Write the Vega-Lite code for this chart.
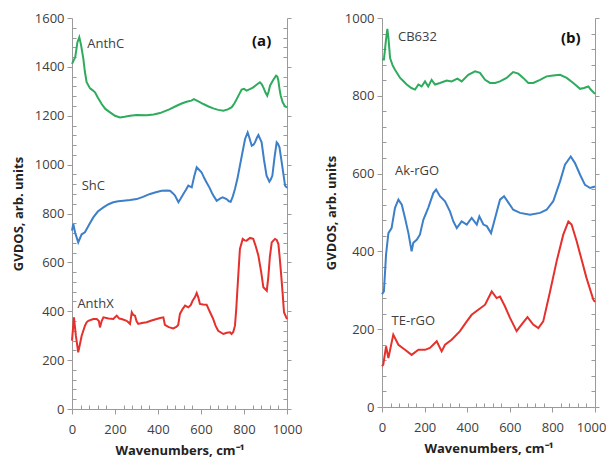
{
  "$schema": "https://vega.github.io/schema/vega-lite/v6.json",
  "padding": {"left": 12, "top": 12, "right": 0, "bottom": 0},
  "config": {
    "font": "Open Sans",
    "view": {"stroke": null},
    "axis": {"grid": false, "domainColor": "#9a9a9a", "tickColor": "#9a9a9a", "labelColor": "#404040", "labelFontSize": 13, "titleFontSize": 13, "titleFontWeight": "bold", "titleColor": "#222222", "labelOverlap": false, "labelFlush": false}
  },
  "datasets": {
    "a": [
      {"series":"AnthC","wn":0,"v":1412},{"series":"AnthC","wn":15,"v":1440},{"series":"AnthC","wn":25,"v":1500},{"series":"AnthC","wn":34,"v":1521},{"series":"AnthC","wn":42,"v":1490},{"series":"AnthC","wn":53,"v":1432},{"series":"AnthC","wn":60,"v":1380},{"series":"AnthC","wn":68,"v":1337},{"series":"AnthC","wn":84,"v":1312},{"series":"AnthC","wn":95,"v":1305},{"series":"AnthC","wn":107,"v":1296},{"series":"AnthC","wn":120,"v":1275},{"series":"AnthC","wn":138,"v":1248},{"series":"AnthC","wn":155,"v":1228},{"series":"AnthC","wn":177,"v":1214},{"series":"AnthC","wn":200,"v":1200},{"series":"AnthC","wn":223,"v":1193},{"series":"AnthC","wn":245,"v":1196},{"series":"AnthC","wn":270,"v":1200},{"series":"AnthC","wn":300,"v":1203},{"series":"AnthC","wn":347,"v":1202},{"series":"AnthC","wn":380,"v":1205},{"series":"AnthC","wn":409,"v":1211},{"series":"AnthC","wn":450,"v":1225},{"series":"AnthC","wn":487,"v":1241},{"series":"AnthC","wn":510,"v":1250},{"series":"AnthC","wn":533,"v":1257},{"series":"AnthC","wn":555,"v":1262},{"series":"AnthC","wn":567,"v":1268},{"series":"AnthC","wn":590,"v":1258},{"series":"AnthC","wn":611,"v":1248},{"series":"AnthC","wn":635,"v":1238},{"series":"AnthC","wn":657,"v":1230},{"series":"AnthC","wn":680,"v":1224},{"series":"AnthC","wn":704,"v":1221},{"series":"AnthC","wn":725,"v":1226},{"series":"AnthC","wn":743,"v":1235},{"series":"AnthC","wn":755,"v":1250},{"series":"AnthC","wn":766,"v":1268},{"series":"AnthC","wn":789,"v":1307},{"series":"AnthC","wn":800,"v":1310},{"series":"AnthC","wn":812,"v":1303},{"series":"AnthC","wn":830,"v":1310},{"series":"AnthC","wn":843,"v":1316},{"series":"AnthC","wn":860,"v":1328},{"series":"AnthC","wn":874,"v":1337},{"series":"AnthC","wn":882,"v":1330},{"series":"AnthC","wn":890,"v":1316},{"series":"AnthC","wn":900,"v":1295},{"series":"AnthC","wn":908,"v":1282},{"series":"AnthC","wn":915,"v":1300},{"series":"AnthC","wn":921,"v":1323},{"series":"AnthC","wn":935,"v":1345},{"series":"AnthC","wn":949,"v":1364},{"series":"AnthC","wn":955,"v":1360},{"series":"AnthC","wn":960,"v":1343},{"series":"AnthC","wn":965,"v":1310},{"series":"AnthC","wn":971,"v":1282},{"series":"AnthC","wn":980,"v":1255},{"series":"AnthC","wn":991,"v":1238},{"series":"AnthC","wn":1000,"v":1235},
      {"series":"ShC","wn":0,"v":730},{"series":"ShC","wn":6,"v":757},{"series":"ShC","wn":15,"v":720},{"series":"ShC","wn":29,"v":682},{"series":"ShC","wn":45,"v":715},{"series":"ShC","wn":60,"v":723},{"series":"ShC","wn":80,"v":755},{"series":"ShC","wn":99,"v":784},{"series":"ShC","wn":120,"v":808},{"series":"ShC","wn":146,"v":825},{"series":"ShC","wn":170,"v":838},{"series":"ShC","wn":192,"v":846},{"series":"ShC","wn":215,"v":850},{"series":"ShC","wn":239,"v":852},{"series":"ShC","wn":270,"v":855},{"series":"ShC","wn":301,"v":859},{"series":"ShC","wn":330,"v":868},{"series":"ShC","wn":363,"v":880},{"series":"ShC","wn":390,"v":887},{"series":"ShC","wn":417,"v":893},{"series":"ShC","wn":440,"v":894},{"series":"ShC","wn":456,"v":893},{"series":"ShC","wn":470,"v":882},{"series":"ShC","wn":479,"v":873},{"series":"ShC","wn":495,"v":846},{"series":"ShC","wn":505,"v":860},{"series":"ShC","wn":518,"v":880},{"series":"ShC","wn":530,"v":897},{"series":"ShC","wn":541,"v":914},{"series":"ShC","wn":557,"v":907},{"series":"ShC","wn":568,"v":950},{"series":"ShC","wn":580,"v":989},{"series":"ShC","wn":590,"v":980},{"series":"ShC","wn":603,"v":968},{"series":"ShC","wn":615,"v":945},{"series":"ShC","wn":626,"v":927},{"series":"ShC","wn":640,"v":905},{"series":"ShC","wn":650,"v":886},{"series":"ShC","wn":660,"v":870},{"series":"ShC","wn":673,"v":852},{"series":"ShC","wn":690,"v":862},{"series":"ShC","wn":701,"v":866},{"series":"ShC","wn":719,"v":859},{"series":"ShC","wn":730,"v":850},{"series":"ShC","wn":738,"v":848},{"series":"ShC","wn":748,"v":870},{"series":"ShC","wn":758,"v":900},{"series":"ShC","wn":770,"v":945},{"series":"ShC","wn":781,"v":996},{"series":"ShC","wn":795,"v":1060},{"series":"ShC","wn":805,"v":1105},{"series":"ShC","wn":817,"v":1132},{"series":"ShC","wn":825,"v":1110},{"series":"ShC","wn":836,"v":1077},{"series":"ShC","wn":845,"v":1082},{"series":"ShC","wn":851,"v":1091},{"series":"ShC","wn":860,"v":1110},{"series":"ShC","wn":867,"v":1121},{"series":"ShC","wn":875,"v":1105},{"series":"ShC","wn":882,"v":1091},{"series":"ShC","wn":893,"v":1020},{"series":"ShC","wn":905,"v":955},{"series":"ShC","wn":918,"v":930},{"series":"ShC","wn":925,"v":940},{"series":"ShC","wn":932,"v":955},{"series":"ShC","wn":942,"v":1030},{"series":"ShC","wn":952,"v":1091},{"series":"ShC","wn":958,"v":1085},{"series":"ShC","wn":965,"v":1071},{"series":"ShC","wn":972,"v":1030},{"series":"ShC","wn":980,"v":982},{"series":"ShC","wn":991,"v":914},{"series":"ShC","wn":1000,"v":905},
      {"series":"AnthX","wn":0,"v":280},{"series":"AnthX","wn":9,"v":375},{"series":"AnthX","wn":18,"v":300},{"series":"AnthX","wn":29,"v":232},{"series":"AnthX","wn":45,"v":300},{"series":"AnthX","wn":60,"v":340},{"series":"AnthX","wn":68,"v":355},{"series":"AnthX","wn":76,"v":361},{"series":"AnthX","wn":99,"v":368},{"series":"AnthX","wn":115,"v":368},{"series":"AnthX","wn":125,"v":360},{"series":"AnthX","wn":130,"v":334},{"series":"AnthX","wn":138,"v":360},{"series":"AnthX","wn":146,"v":375},{"series":"AnthX","wn":170,"v":370},{"series":"AnthX","wn":192,"v":368},{"series":"AnthX","wn":208,"v":382},{"series":"AnthX","wn":220,"v":370},{"series":"AnthX","wn":231,"v":368},{"series":"AnthX","wn":254,"v":361},{"series":"AnthX","wn":262,"v":355},{"series":"AnthX","wn":270,"v":348},{"series":"AnthX","wn":278,"v":396},{"series":"AnthX","wn":285,"v":385},{"series":"AnthX","wn":293,"v":382},{"series":"AnthX","wn":300,"v":360},{"series":"AnthX","wn":308,"v":348},{"series":"AnthX","wn":325,"v":352},{"series":"AnthX","wn":347,"v":355},{"series":"AnthX","wn":370,"v":362},{"series":"AnthX","wn":394,"v":368},{"series":"AnthX","wn":410,"v":372},{"series":"AnthX","wn":425,"v":375},{"series":"AnthX","wn":432,"v":344},{"series":"AnthX","wn":450,"v":335},{"series":"AnthX","wn":471,"v":330},{"series":"AnthX","wn":485,"v":336},{"series":"AnthX","wn":494,"v":344},{"series":"AnthX","wn":502,"v":389},{"series":"AnthX","wn":515,"v":410},{"series":"AnthX","wn":526,"v":423},{"series":"AnthX","wn":541,"v":416},{"series":"AnthX","wn":552,"v":425},{"series":"AnthX","wn":561,"v":443},{"series":"AnthX","wn":572,"v":458},{"series":"AnthX","wn":580,"v":475},{"series":"AnthX","wn":588,"v":455},{"series":"AnthX","wn":595,"v":430},{"series":"AnthX","wn":610,"v":428},{"series":"AnthX","wn":626,"v":427},{"series":"AnthX","wn":640,"v":400},{"series":"AnthX","wn":657,"v":368},{"series":"AnthX","wn":668,"v":340},{"series":"AnthX","wn":680,"v":320},{"series":"AnthX","wn":704,"v":307},{"series":"AnthX","wn":720,"v":312},{"series":"AnthX","wn":735,"v":314},{"series":"AnthX","wn":742,"v":307},{"series":"AnthX","wn":750,"v":315},{"series":"AnthX","wn":758,"v":341},{"series":"AnthX","wn":764,"v":410},{"series":"AnthX","wn":769,"v":484},{"series":"AnthX","wn":775,"v":570},{"series":"AnthX","wn":781,"v":655},{"series":"AnthX","wn":794,"v":696},{"series":"AnthX","wn":803,"v":690},{"series":"AnthX","wn":812,"v":689},{"series":"AnthX","wn":828,"v":700},{"series":"AnthX","wn":843,"v":696},{"series":"AnthX","wn":855,"v":665},{"series":"AnthX","wn":867,"v":627},{"series":"AnthX","wn":880,"v":560},{"series":"AnthX","wn":890,"v":498},{"series":"AnthX","wn":906,"v":484},{"series":"AnthX","wn":913,"v":539},{"series":"AnthX","wn":920,"v":620},{"series":"AnthX","wn":929,"v":682},{"series":"AnthX","wn":944,"v":696},{"series":"AnthX","wn":952,"v":692},{"series":"AnthX","wn":960,"v":675},{"series":"AnthX","wn":966,"v":620},{"series":"AnthX","wn":972,"v":559},{"series":"AnthX","wn":980,"v":470},{"series":"AnthX","wn":986,"v":396},{"series":"AnthX","wn":1000,"v":368}
    ],
    "b": [
      {"series":"CB632","wn":0,"v":893},{"series":"CB632","wn":9,"v":893},{"series":"CB632","wn":18,"v":940},{"series":"CB632","wn":25,"v":972},{"series":"CB632","wn":30,"v":950},{"series":"CB632","wn":38,"v":897},{"series":"CB632","wn":50,"v":878},{"series":"CB632","wn":61,"v":867},{"series":"CB632","wn":85,"v":846},{"series":"CB632","wn":100,"v":838},{"series":"CB632","wn":116,"v":829},{"series":"CB632","wn":138,"v":820},{"series":"CB632","wn":155,"v":816},{"series":"CB632","wn":171,"v":829},{"series":"CB632","wn":186,"v":824},{"series":"CB632","wn":202,"v":837},{"series":"CB632","wn":217,"v":824},{"series":"CB632","wn":233,"v":841},{"series":"CB632","wn":249,"v":829},{"series":"CB632","wn":272,"v":833},{"series":"CB632","wn":304,"v":839},{"series":"CB632","wn":327,"v":837},{"series":"CB632","wn":354,"v":844},{"series":"CB632","wn":374,"v":837},{"series":"CB632","wn":405,"v":854},{"series":"CB632","wn":437,"v":863},{"series":"CB632","wn":460,"v":859},{"series":"CB632","wn":484,"v":841},{"series":"CB632","wn":507,"v":833},{"series":"CB632","wn":531,"v":833},{"series":"CB632","wn":554,"v":837},{"series":"CB632","wn":585,"v":846},{"series":"CB632","wn":616,"v":861},{"series":"CB632","wn":640,"v":857},{"series":"CB632","wn":663,"v":846},{"series":"CB632","wn":687,"v":833},{"series":"CB632","wn":710,"v":833},{"series":"CB632","wn":742,"v":841},{"series":"CB632","wn":773,"v":850},{"series":"CB632","wn":804,"v":852},{"series":"CB632","wn":836,"v":854},{"series":"CB632","wn":867,"v":846},{"series":"CB632","wn":898,"v":833},{"series":"CB632","wn":930,"v":818},{"series":"CB632","wn":948,"v":820},{"series":"CB632","wn":969,"v":824},{"series":"CB632","wn":980,"v":816},{"series":"CB632","wn":1000,"v":805},
      {"series":"Ak-rGO","wn":0,"v":290},{"series":"Ak-rGO","wn":9,"v":297},{"series":"Ak-rGO","wn":19,"v":392},{"series":"Ak-rGO","wn":30,"v":447},{"series":"Ak-rGO","wn":45,"v":460},{"series":"Ak-rGO","wn":61,"v":512},{"series":"Ak-rGO","wn":77,"v":533},{"series":"Ak-rGO","wn":93,"v":520},{"series":"Ak-rGO","wn":108,"v":486},{"series":"Ak-rGO","wn":124,"v":447},{"series":"Ak-rGO","wn":139,"v":400},{"series":"Ak-rGO","wn":147,"v":422},{"series":"Ak-rGO","wn":163,"v":430},{"series":"Ak-rGO","wn":178,"v":443},{"series":"Ak-rGO","wn":194,"v":481},{"series":"Ak-rGO","wn":217,"v":512},{"series":"Ak-rGO","wn":241,"v":550},{"series":"Ak-rGO","wn":254,"v":559},{"series":"Ak-rGO","wn":272,"v":542},{"series":"Ak-rGO","wn":296,"v":529},{"series":"Ak-rGO","wn":319,"v":503},{"series":"Ak-rGO","wn":335,"v":477},{"series":"Ak-rGO","wn":351,"v":460},{"series":"Ak-rGO","wn":374,"v":477},{"series":"Ak-rGO","wn":398,"v":469},{"series":"Ak-rGO","wn":421,"v":486},{"series":"Ak-rGO","wn":445,"v":469},{"series":"Ak-rGO","wn":457,"v":490},{"series":"Ak-rGO","wn":476,"v":469},{"series":"Ak-rGO","wn":492,"v":465},{"series":"Ak-rGO","wn":512,"v":447},{"series":"Ak-rGO","wn":531,"v":486},{"series":"Ak-rGO","wn":554,"v":533},{"series":"Ak-rGO","wn":573,"v":542},{"series":"Ak-rGO","wn":595,"v":524},{"series":"Ak-rGO","wn":616,"v":507},{"series":"Ak-rGO","wn":648,"v":499},{"series":"Ak-rGO","wn":695,"v":494},{"series":"Ak-rGO","wn":742,"v":499},{"series":"Ak-rGO","wn":773,"v":507},{"series":"Ak-rGO","wn":804,"v":529},{"series":"Ak-rGO","wn":836,"v":580},{"series":"Ak-rGO","wn":859,"v":623},{"series":"Ak-rGO","wn":886,"v":644},{"series":"Ak-rGO","wn":906,"v":627},{"series":"Ak-rGO","wn":930,"v":597},{"series":"Ak-rGO","wn":953,"v":571},{"series":"Ak-rGO","wn":977,"v":563},{"series":"Ak-rGO","wn":1000,"v":567},
      {"series":"TE-rGO","wn":0,"v":105},{"series":"TE-rGO","wn":6,"v":109},{"series":"TE-rGO","wn":19,"v":156},{"series":"TE-rGO","wn":30,"v":126},{"series":"TE-rGO","wn":53,"v":186},{"series":"TE-rGO","wn":77,"v":160},{"series":"TE-rGO","wn":108,"v":147},{"series":"TE-rGO","wn":139,"v":134},{"series":"TE-rGO","wn":171,"v":147},{"series":"TE-rGO","wn":202,"v":147},{"series":"TE-rGO","wn":225,"v":152},{"series":"TE-rGO","wn":257,"v":169},{"series":"TE-rGO","wn":280,"v":143},{"series":"TE-rGO","wn":296,"v":160},{"series":"TE-rGO","wn":327,"v":173},{"series":"TE-rGO","wn":366,"v":195},{"series":"TE-rGO","wn":398,"v":220},{"series":"TE-rGO","wn":421,"v":237},{"series":"TE-rGO","wn":452,"v":250},{"series":"TE-rGO","wn":484,"v":263},{"series":"TE-rGO","wn":515,"v":297},{"series":"TE-rGO","wn":538,"v":280},{"series":"TE-rGO","wn":554,"v":284},{"series":"TE-rGO","wn":577,"v":259},{"series":"TE-rGO","wn":601,"v":229},{"series":"TE-rGO","wn":632,"v":195},{"series":"TE-rGO","wn":655,"v":212},{"series":"TE-rGO","wn":683,"v":231},{"series":"TE-rGO","wn":710,"v":212},{"series":"TE-rGO","wn":734,"v":203},{"series":"TE-rGO","wn":757,"v":220},{"series":"TE-rGO","wn":789,"v":297},{"series":"TE-rGO","wn":820,"v":375},{"series":"TE-rGO","wn":851,"v":443},{"series":"TE-rGO","wn":875,"v":477},{"series":"TE-rGO","wn":890,"v":469},{"series":"TE-rGO","wn":914,"v":426},{"series":"TE-rGO","wn":937,"v":379},{"series":"TE-rGO","wn":960,"v":332},{"series":"TE-rGO","wn":992,"v":276},{"series":"TE-rGO","wn":1000,"v":270}
    ],
    "la": [{"text":"AnthC","wn":71,"v":1493},{"text":"ShC","wn":45,"v":914},{"text":"AnthX","wn":25,"v":430}],
    "ta": [{"text":"(a)","wn":882,"v":1507}],
    "lb": [{"text":"CB632","wn":75,"v":950},{"text":"Ak-rGO","wn":61,"v":606},{"text":"TE-rGO","wn":45,"v":220}],
    "tb": [{"text":"(b)","wn":886,"v":949}]
  },
  "hconcat": [
    {
      "width": 215,
      "height": 391,
      "layer": [
        {
          "data": {"name": "a"},
          "mark": {"type": "line", "strokeWidth": 2},
          "encoding": {
            "x": {"field": "wn", "type": "quantitative", "scale": {"domain": [0, 1000], "nice": false},
              "axis": {"orient": "bottom", "values": [0,40,80,120,160,200,240,280,320,360,400,440,480,520,560,600,640,680,720,760,800,840,880,920,960,1000], "format": "d", "labelExpr": "datum.value % 200 === 0 ? datum.label : ''", "labelOverlap": false, "labelFlush": false, "tickSize": {"condition": {"test": "datum.value % 200 === 0", "value": 5}, "value": -4}, "labelPadding": 9, "title": "Wavenumbers, cm⁻¹", "titlePadding": 8}},
            "y": {"field": "v", "type": "quantitative", "scale": {"domain": [0, 1600], "nice": false},
              "axis": {"orient": "left", "values": [0,40,80,120,160,200,240,280,320,360,400,440,480,520,560,600,640,680,720,760,800,840,880,920,960,1000,1040,1080,1120,1160,1200,1240,1280,1320,1360,1400,1440,1480,1520,1560,1600], "labelExpr": "datum.value % 200 === 0 ? datum.label : ''", "labelOverlap": false, "labelFlush": false, "format": "d", "tickSize": {"condition": {"test": "datum.value % 200 === 0", "value": 5}, "value": -4}, "labelPadding": 3, "title": "GVDOS, arb. units", "titlePadding": 9}},
            "color": {"field": "series", "type": "nominal", "legend": null, "scale": {"domain": ["AnthC", "ShC", "AnthX"], "range": ["#2eab5c", "#3d7fc8", "#e5302c"]}},
            "detail": {"field": "series"}
          }
        },
        {
          "data": {"name": "ta"},
          "mark": {"type": "text", "fontSize": 15, "fontWeight": "bold", "color": "#111111", "align": "center", "baseline": "middle"},
          "encoding": {
            "x": {"field": "wn", "type": "quantitative", "scale": {"domain": [0, 1000], "nice": false}, "axis": null},
            "y": {"field": "v", "type": "quantitative", "scale": {"domain": [0, 1600], "nice": false},
              "axis": {"orient": "right", "values": [0,40,80,120,160,200,240,280,320,360,400,440,480,520,560,600,640,680,720,760,800,840,880,920,960,1000,1040,1080,1120,1160,1200,1240,1280,1320,1360,1400,1440,1480,1520,1560,1600], "labels": false, "title": null, "tickSize": {"condition": {"test": "datum.value % 200 === 0", "value": 4}, "value": -4}}},
            "text": {"field": "text", "type": "nominal"}
          }
        },
        {
          "data": {"name": "la"},
          "mark": {"type": "text", "fontSize": 13, "color": "#404040", "align": "left", "baseline": "middle"},
          "encoding": {
            "x": {"field": "wn", "type": "quantitative", "scale": {"domain": [0, 1000], "nice": false}, "axis": null},
            "y": {"field": "v", "type": "quantitative", "scale": {"domain": [0, 1600], "nice": false}, "axis": null},
            "text": {"field": "text", "type": "nominal"}
          }
        }
      ],
      "resolve": {"axis": {"x": "independent", "y": "independent"}}
    },
    {
      "width": 213,
      "height": 389,
      "layer": [
        {
          "data": {"name": "b"},
          "mark": {"type": "line", "strokeWidth": 2},
          "encoding": {
            "x": {"field": "wn", "type": "quantitative", "scale": {"domain": [0, 1000], "nice": false},
              "axis": {"orient": "bottom", "values": [0,40,80,120,160,200,240,280,320,360,400,440,480,520,560,600,640,680,720,760,800,840,880,920,960,1000], "format": "d", "labelExpr": "datum.value % 200 === 0 ? datum.label : ''", "labelOverlap": false, "labelFlush": false, "labelOffset": {"condition": {"test": "datum.value === 1000", "value": -4}, "value": 0}, "tickSize": {"condition": {"test": "datum.value % 200 === 0", "value": 5}, "value": -4}, "labelPadding": 9, "title": "Wavenumbers,  cm⁻¹", "titlePadding": 8}},
            "y": {"field": "v", "type": "quantitative", "scale": {"domain": [0, 1000], "nice": false},
              "axis": {"orient": "left", "values": [0,40,80,120,160,200,240,280,320,360,400,440,480,520,560,600,640,680,720,760,800,840,880,920,960,1000], "labelExpr": "datum.value % 200 === 0 ? datum.label : ''", "labelOverlap": false, "labelFlush": false, "format": "d", "tickSize": {"condition": {"test": "datum.value % 200 === 0", "value": 5}, "value": -4}, "labelPadding": 3, "title": "GVDOS, arb. units", "titlePadding": 6}},
            "color": {"field": "series", "type": "nominal", "legend": null, "scale": {"domain": ["CB632", "Ak-rGO", "TE-rGO"], "range": ["#2eab5c", "#3d7fc8", "#e5302c"]}},
            "detail": {"field": "series"}
          }
        },
        {
          "data": {"name": "tb"},
          "mark": {"type": "text", "fontSize": 15, "fontWeight": "bold", "color": "#111111", "align": "center", "baseline": "middle"},
          "encoding": {
            "x": {"field": "wn", "type": "quantitative", "scale": {"domain": [0, 1000], "nice": false}, "axis": null},
            "y": {"field": "v", "type": "quantitative", "scale": {"domain": [0, 1000], "nice": false},
              "axis": {"orient": "right", "values": [0,40,80,120,160,200,240,280,320,360,400,440,480,520,560,600,640,680,720,760,800,840,880,920,960,1000], "labels": false, "title": null, "tickSize": {"condition": {"test": "datum.value % 200 === 0", "value": 4}, "value": -4}}},
            "text": {"field": "text", "type": "nominal"}
          }
        },
        {
          "data": {"name": "lb"},
          "mark": {"type": "text", "fontSize": 13, "color": "#404040", "align": "left", "baseline": "middle"},
          "encoding": {
            "x": {"field": "wn", "type": "quantitative", "scale": {"domain": [0, 1000], "nice": false}, "axis": null},
            "y": {"field": "v", "type": "quantitative", "scale": {"domain": [0, 1000], "nice": false}, "axis": null},
            "text": {"field": "text", "type": "nominal"}
          }
        }
      ],
      "resolve": {"axis": {"x": "independent", "y": "independent"}}
    }
  ],
  "spacing": 23
}
